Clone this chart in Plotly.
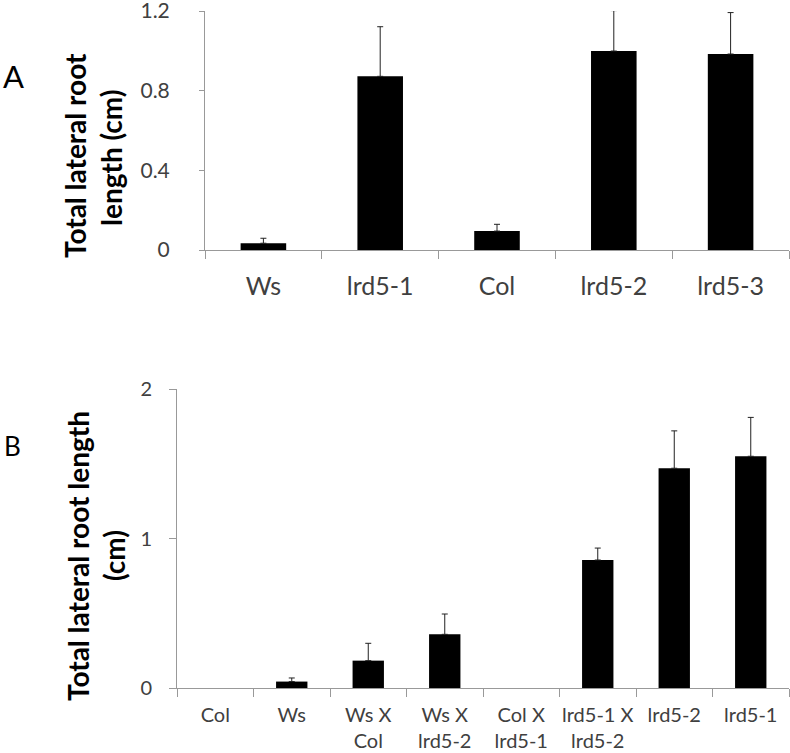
import plotly.graph_objects as go

# Panel A data
cats_a = ["Ws", "lrd5-1", "Col", "lrd5-2", "lrd5-3"]
vals_a = [0.034, 0.872, 0.095, 0.999, 0.984]
err_a = [0.025, 0.249, 0.034, 0.203, 0.208]
yticks_a = [0, 0.4, 0.8, 1.2]
yticklabels_a = ["0", "0.4", "0.8", "1.2"]

# Panel B data (no error bar shown for the zero-valued lines)
cats_b = ["Col", "Ws", "Ws X<br>Col", "Ws X<br>lrd5-2", "Col X<br>lrd5-1",
          "lrd5-1 X<br>lrd5-2", "lrd5-2", "lrd5-1"]
vals_b = [0.0, 0.043, 0.183, 0.359, 0.0, 0.856, 1.47, 1.55]
err_b = ["NaN", 0.024, 0.116, 0.136, "NaN", 0.080, 0.25, 0.26]
yticks_b = [0, 1, 2]

W, H = 790, 753
def px(x):
    return x / W
def py(y):
    return 1 - y / H

FONT = "Lato"
TICKC = "#404040"
AXC = "#999999"

fig = go.Figure()
fig.add_trace(go.Bar(
    x=cats_a, y=vals_a, xaxis="x", yaxis="y", width=0.39, cliponaxis=False,
    marker=dict(color="black", line=dict(width=0)),
    error_y=dict(type="data", array=err_a, arrayminus=[0]*len(err_a), symmetric=False,
                 color="#222222", thickness=1, width=3),
    showlegend=False, hoverinfo="x+y"))
fig.add_trace(go.Bar(
    x=cats_b, y=vals_b, xaxis="x2", yaxis="y2", width=0.41, cliponaxis=False,
    marker=dict(color="black", line=dict(width=0)),
    error_y=dict(type="data", array=err_b,
                 arrayminus=[0 if e != "NaN" else "NaN" for e in err_b], symmetric=False,
                 color="#222222", thickness=1, width=3),
    showlegend=False, hoverinfo="x+y"))

axcommon = dict(showline=True, linecolor=AXC, linewidth=1, showgrid=False, zeroline=False,
                ticks="outside", tickcolor=AXC, ticklen=8, tickwidth=1, automargin=False,
                ticklabeloverflow="allow")

fig.update_layout(
    width=W, height=H, margin=dict(l=0, r=0, t=0, b=0, autoexpand=False),
    paper_bgcolor="white", plot_bgcolor="white",
    font=dict(family=FONT, color=TICKC),
    xaxis=dict(domain=[px(205), px(789)], anchor="y", type="category", tickson="boundaries",
               tickangle=0, tickfont=dict(size=25, color=TICKC), ticklabelstandoff=14,
               **axcommon),
    yaxis=dict(domain=[py(250), py(11)], anchor="x", range=[0, 1.2],
               tickvals=yticks_a, ticktext=yticklabels_a,
               tickfont=dict(size=21, color=TICKC), ticklabelstandoff=25,
               **{**axcommon, "ticklen": 5}),
    xaxis2=dict(domain=[px(177), px(789)], anchor="y2", type="category", tickson="boundaries",
                tickangle=0, tickfont=dict(size=20, color=TICKC), ticklabelstandoff=9,
                **axcommon),
    yaxis2=dict(domain=[py(688), py(389)], anchor="x2", range=[0, 2],
                tickvals=yticks_b, ticktext=[str(v) for v in yticks_b],
                tickfont=dict(size=20, color=TICKC), ticklabelstandoff=13,
                **{**axcommon, "ticklen": 7}),
)

ann = []
# y-axis titles (two lines each)
ann.append(dict(text="<b>Total lateral root</b>", x=px(75), y=py(156)))
ann.append(dict(text="<b>length (cm)</b>", x=px(111), y=py(158)))
ann.append(dict(text="<b>Total lateral root length</b>", x=px(78), y=py(556)))
ann.append(dict(text="<b>(cm)</b>", x=px(114), y=py(556)))
for a in ann:
    a.update(xref="paper", yref="paper", showarrow=False, textangle=-90,
             xanchor="center", yanchor="middle", font=dict(family=FONT, size=28, color="black"))
# panel letters
ann.append(dict(text="A", x=px(1), y=py(76), xref="paper", yref="paper", showarrow=False,
                xanchor="left", yanchor="middle", font=dict(family=FONT, size=31, color="black")))
ann.append(dict(text="B", x=px(2), y=py(446), xref="paper", yref="paper", showarrow=False,
                xanchor="left", yanchor="middle", font=dict(family=FONT, size=26, color="black")))
fig.update_layout(annotations=ann)

# remove the page's default 8px body margin so the figure sits at the window origin
fig.write_html("out.html", config={"displayModeBar": False},
               post_script="document.body.style.margin='0';")
